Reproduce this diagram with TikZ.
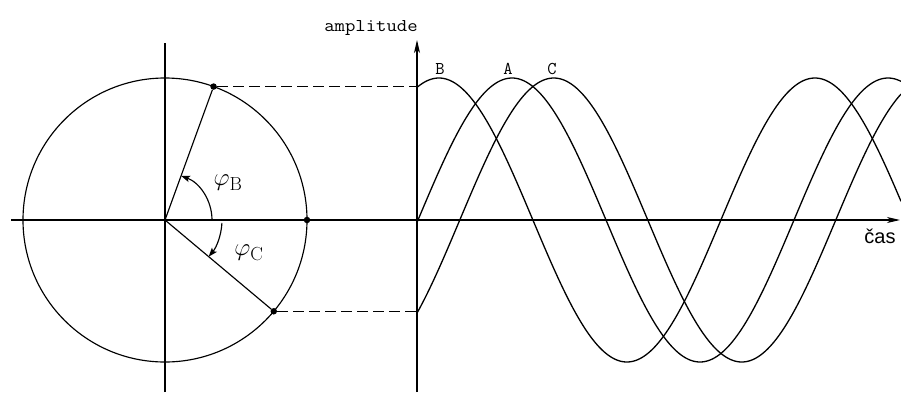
\documentclass[tikz,border=0pt]{standalone}
\usepackage{fontspec}
\newfontfamily\sansfnt{Liberation Sans}
\usetikzlibrary{arrows.meta}
\begin{document}
\begin{tikzpicture}[x=1pt,y=1pt,
  axis/.style={line width=1.15pt},
  wave/.style={line width=1.3pt},
  dashline/.style={line width=1.15pt, dash pattern=on 11pt off 5pt},
  dot/.style={circle,fill,inner sep=0pt,minimum size=6.5pt},
  tip/.style={-{Stealth[length=13pt,width=6pt,inset=3.5pt]}},
  angtip/.style={-{Stealth[length=9pt,width=6.5pt,inset=2pt]}},
  lbl/.style={font=\ttfamily\fontsize{18}{20}\selectfont, inner sep=0pt, anchor=base},
  philbl/.style={font=\fontsize{27}{30}\selectfont, inner sep=0pt},
]
\useasboundingbox (0,-392) rectangle (901,0);
\coordinate (O) at (165,-220);
\coordinate (S) at (417,-220);
\coordinate (hs) at (11,-220);
\coordinate (he) at (900,-220);
\coordinate (vt) at (165,-43);
\coordinate (vb) at (165,-392);
\coordinate (st) at (417,-40);
\coordinate (sb) at (417,-392);

\draw[axis] (O) circle[radius=142];
\draw[axis,tip] (hs) -- (he);
\draw[axis] (vb) -- (vt);
\draw[axis,tip] (sb) -- (st);

\node[dot] (pB) at ([shift={(70:142)}]O) {};
\node[dot] (pC) at ([shift={(-40:142)}]O) {};
\node[dot] (pA) at ([shift={(0:142)}]O) {};
\draw[axis] (O) -- (pB);
\draw[axis] (O) -- (pC);
\draw[dashline] (pB) -- (pB -| S);
\draw[dashline] (pC) -- (pC -| S);

\draw[axis,angtip] ([shift={(0:47)}]O) arc[start angle=0,end angle=70,radius=47];
\draw[axis,angtip] ([shift={(-3:57)}]O) arc[start angle=-3,end angle=-40,radius=57];

\node[philbl] (phB) at (228,-183) {$\varphi_{\mathrm{B}}$};
\node[philbl] (phC) at (249,-253) {$\varphi_{\mathrm{C}}$};

\draw[wave] plot[domain=417:901,samples=240,smooth] (\x,{-220+142*sin((\x-418)/376*360+70)});
\draw[wave] plot[domain=417:901,samples=240,smooth] (\x,{-220+142*sin((\x-418)/376*360)});
\draw[wave] plot[domain=417:901,samples=240,smooth] (\x,{-220+142*sin((\x-418)/376*360-40)});

\node[lbl] (amp) at (371,-31) {\scalebox{1.12}[1]{amplitude}};
\node[lbl] (lB) at (440,-74) {B};
\node[lbl] (lA) at (508,-74) {A};
\node[lbl] (lC) at (552,-74) {C};
\node[font=\sansfnt\fontsize{20}{24}\selectfont, anchor=base, inner sep=0pt] (cas) at (880,-243) {čas};
\end{tikzpicture}
\end{document}
